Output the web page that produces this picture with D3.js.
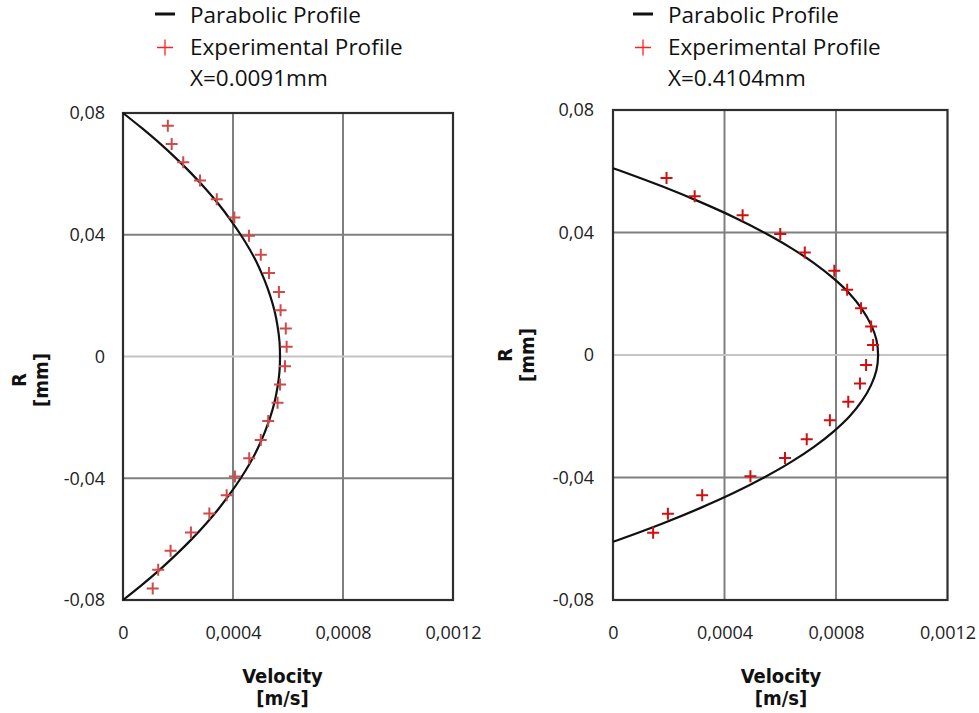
<!DOCTYPE html>
<html>
<head>
<meta charset="utf-8">
<script src="https://cdn.jsdelivr.net/npm/d3@7/dist/d3.min.js"></script>
<style>
  html, body { margin: 0; padding: 0; background: #fff; }
  svg { display: block; }
</style>
</head>
<body>
<svg id="chart" width="979" height="713"></svg>
<script>
// ---------------- data ----------------
const xTicks = [0, 0.0004, 0.0008, 0.0012];
const yTicks = [0.08, 0.04, 0, -0.04, -0.08];
const seriesNames = ["Parabolic Profile", "Experimental Profile"];
const panelLabels = ["X=0.0091mm", "X=0.4104mm"];

// Left panel (X=0.0091mm)
const leftCurveR = [0.08, 0.075, 0.07, 0.065, 0.06, 0.055, 0.05, 0.045, 0.04, 0.035, 0.03, 0.025, 0.02, 0.015, 0.01, 0.005, 0,
  -0.005, -0.01, -0.015, -0.02, -0.025, -0.03, -0.035, -0.04, -0.045, -0.05, -0.055, -0.06, -0.065, -0.07, -0.075, -0.08];
const leftCurveV = [0, 0.000069, 0.000134, 0.000194, 0.000250, 0.000301, 0.000348, 0.000390, 0.000428, 0.000462, 0.000491, 0.000515, 0.000535, 0.000551, 0.000562, 0.000569, 0.000571,
  0.000569, 0.000562, 0.000551, 0.000535, 0.000515, 0.000491, 0.000462, 0.000428, 0.000390, 0.000348, 0.000301, 0.000250, 0.000194, 0.000134, 0.000069, 0];
const leftExpR = [0.0758, 0.0698, 0.0638, 0.0578, 0.0517, 0.0457, 0.0397, 0.0334, 0.0274, 0.0212, 0.0152, 0.0092, 0.0032,
  -0.0032, -0.0092, -0.0152, -0.0212, -0.0274, -0.0334, -0.0394, -0.0456, -0.0516, -0.0578, -0.0638, -0.0701, -0.0762];
const leftExpV = [0.000163, 0.000177, 0.000219, 0.000280, 0.000341, 0.000405, 0.000458, 0.000501, 0.000531, 0.000567, 0.000573, 0.000592, 0.000595,
  0.000589, 0.000571, 0.000562, 0.000528, 0.000501, 0.000459, 0.000407, 0.000377, 0.000314, 0.000247, 0.000173, 0.000128, 0.000108];

// Right panel (X=0.4104mm)
const rightCurveR = [0.061, 0.06, 0.055, 0.05, 0.045, 0.04, 0.035, 0.03, 0.025, 0.02, 0.015, 0.01, 0.005, 0,
  -0.005, -0.01, -0.015, -0.02, -0.025, -0.03, -0.035, -0.04, -0.045, -0.05, -0.055, -0.06, -0.061];
const rightCurveV = [0, 0.000031, 0.000178, 0.000312, 0.000434, 0.000542, 0.000638, 0.000721, 0.000791, 0.000849, 0.000893, 0.000925, 0.000945, 0.000951,
  0.000945, 0.000925, 0.000893, 0.000849, 0.000791, 0.000721, 0.000638, 0.000542, 0.000434, 0.000312, 0.000178, 0.000031, 0];
const rightExpR = [0.0578, 0.0518, 0.0456, 0.0395, 0.0335, 0.0275, 0.0213, 0.0153, 0.0093, 0.0033,
  -0.0033, -0.0093, -0.0153, -0.0213, -0.0275, -0.0336, -0.0396, -0.0458, -0.0518, -0.0580];
const rightExpV = [0.000192, 0.000293, 0.000465, 0.000600, 0.000688, 0.000794, 0.000840, 0.000890, 0.000926, 0.000933,
  0.000908, 0.000886, 0.000844, 0.000778, 0.000695, 0.000617, 0.000493, 0.000320, 0.000197, 0.000144];

// ---------------- drawing ----------------
const locale = d3.formatLocale({decimal: ",", thousands: ".", grouping: [3], currency: ["", ""], minus: "-"});
const fmt = locale.format("");

const svg = d3.select("#chart");
const tickFont = "'Open Sans', 'Noto Sans', sans-serif";
const titleFont = "'Liberation Sans Narrow', 'DejaVu Sans Condensed', 'Arial Narrow', sans-serif";

const panels = [
  {curveR: leftCurveR, curveV: leftCurveV, expR: leftExpR, expV: leftExpV, label: panelLabels[0],
   x0: 123, x1: 453, y0: 113, y1: 600, markColor: "#cf4a4a",
   legendX: 155, yTitleX: 26, yTitleY: 380, yLabelRight: 105, xTitleX: 282.5},
  {curveR: rightCurveR, curveV: rightCurveV, expR: rightExpR, expV: rightExpV, label: panelLabels[1],
   x0: 613, x1: 947.5, y0: 110, y1: 600, markColor: "#d01010",
   legendX: 633, yTitleX: 512, yTitleY: 355, yLabelRight: 594, xTitleX: 781}
];

panels.forEach(p => {
  const x = d3.scaleLinear().domain([0, 0.0012]).range([p.x0, p.x1]);
  const y = d3.scaleLinear().domain([-0.08, 0.08]).range([p.y1, p.y0]);
  const g = svg.append("g");

  // grid lines
  g.selectAll("line.vgrid").data(xTicks.filter(t => t > 0 && t < 0.0012)).enter()
    .append("line").attr("class", "vgrid")
    .attr("x1", d => x(d)).attr("x2", d => x(d))
    .attr("y1", p.y0).attr("y2", p.y1)
    .attr("stroke", "#7f7f7f").attr("stroke-width", 2);
  g.selectAll("line.hgrid").data(yTicks.filter(t => t > -0.08 && t < 0.08)).enter()
    .append("line").attr("class", "hgrid")
    .attr("x1", p.x0).attr("x2", p.x1)
    .attr("y1", d => y(d)).attr("y2", d => y(d))
    .attr("stroke", d => d === 0 ? "#c4c4c4" : "#7f7f7f").attr("stroke-width", 2);

  // border
  g.append("rect").attr("x", p.x0).attr("y", p.y0)
    .attr("width", p.x1 - p.x0).attr("height", p.y1 - p.y0)
    .attr("fill", "none").attr("stroke", "#2e2e2e").attr("stroke-width", 2.2);

  // axes (labels only)
  const xAxis = d3.axisBottom(x).tickValues(xTicks).tickFormat(fmt).tickSize(0).tickPadding(26);
  const xa = g.append("g").attr("transform", `translate(0,${p.y1})`).call(xAxis);
  xa.select(".domain").remove();
  xa.selectAll("text").attr("font-family", tickFont).attr("font-size", 18).attr("fill", "#222");

  const yAxis = d3.axisLeft(y).tickValues(yTicks).tickFormat(fmt).tickSize(0).tickPadding(p.x0 - p.yLabelRight);
  const ya = g.append("g").attr("transform", `translate(${p.x0},0)`).call(yAxis);
  ya.select(".domain").remove();
  ya.selectAll("text").attr("font-family", tickFont).attr("font-size", 18).attr("fill", "#222");

  // parabolic profile
  const pts = p.curveR.map((r, i) => [p.curveV[i], r]);
  g.append("path").datum(pts)
    .attr("d", d3.line().x(d => x(d[0])).y(d => y(d[1])).curve(d3.curveCatmullRom))
    .attr("fill", "none").attr("stroke", "#111").attr("stroke-width", 2.2);

  // experimental profile
  const ex = p.expR.map((r, i) => [p.expV[i], r]);
  const s = 6;
  g.selectAll("path.mark").data(ex).enter().append("path").attr("class", "mark")
    .attr("d", d => `M${x(d[0]) - s},${y(d[1])}H${x(d[0]) + s}M${x(d[0])},${y(d[1]) - s}V${y(d[1]) + s}`)
    .attr("stroke", p.markColor).attr("stroke-width", 2).attr("fill", "none");

  // legend
  const lg = svg.append("g");
  lg.append("line").attr("x1", p.legendX).attr("x2", p.legendX + 20)
    .attr("y1", 14).attr("y2", 14).attr("stroke", "#111").attr("stroke-width", 3);
  lg.append("path")
    .attr("d", `M${p.legendX + 2},47.5H${p.legendX + 18}M${p.legendX + 10},39.5V55.5`)
    .attr("stroke", "#ff2020").attr("stroke-width", 1.3).attr("fill", "none");
  const legTexts = [seriesNames[0], seriesNames[1], p.label];
  const legBase = [22.5, 55, 86];
  legTexts.forEach((t, i) => {
    lg.append("text").attr("x", p.legendX + 35).attr("y", legBase[i])
      .attr("font-family", tickFont).attr("font-size", 22.5).attr("fill", "#111").text(t);
  });

  // y title
  const yt = svg.append("text")
    .attr("transform", `translate(${p.yTitleX},${p.yTitleY}) rotate(-90)`)
    .attr("text-anchor", "middle")
    .attr("font-family", titleFont).attr("font-weight", "bold").attr("font-size", 20).attr("fill", "#111");
  yt.append("tspan").attr("x", 0).attr("y", 0).text("R");
  yt.append("tspan").attr("x", 0).attr("y", 22).text("[mm]");

  // x title
  const xt = svg.append("text")
    .attr("text-anchor", "middle")
    .attr("font-family", titleFont).attr("font-weight", "bold").attr("font-size", 20).attr("fill", "#111");
  xt.append("tspan").attr("x", p.xTitleX).attr("y", 683).text("Velocity");
  xt.append("tspan").attr("x", p.xTitleX).attr("y", 705).text("[m/s]");
});
</script>
</body>
</html>
